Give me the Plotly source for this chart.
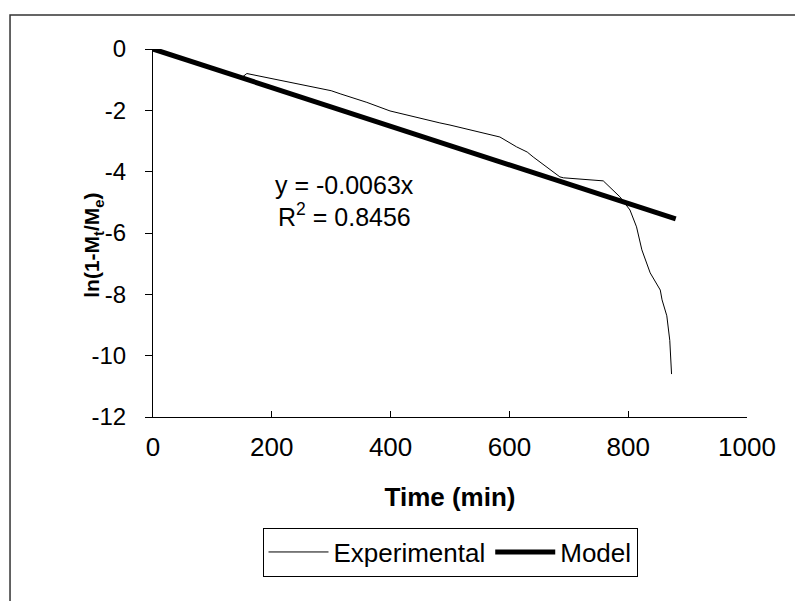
import plotly.graph_objects as go

# ---- data ----
exp_time = [0, 50, 100, 140, 150, 158, 200, 250, 300, 315, 332, 360, 399, 440, 483, 500,
            556, 584, 612, 630, 640, 651, 670, 685, 691, 736, 758, 786, 803, 814, 823,
            837, 854, 857, 865, 870, 873]
exp_val = [0, -0.3, -0.62, -0.86, -0.92, -0.8, -0.96, -1.16, -1.36, -1.46, -1.56, -1.74, -2.02,
           -2.22, -2.41, -2.48, -2.75, -2.87, -3.19, -3.36, -3.52, -3.68, -3.95, -4.17, -4.2,
           -4.27, -4.3, -4.82, -5.25, -5.8, -6.55, -7.3, -7.86, -8.18, -8.7, -9.5, -10.6]

model_time = [0, 880]
model_val = [0, -5.54]

x_ticks = [0, 200, 400, 600, 800, 1000]
x_tick_labels = ["0", "200", "400", "600", "800", "1000"]
y_ticks = [0, -2, -4, -6, -8, -10, -12]
y_tick_labels = ["0", "-2", "-4", "-6", "-8", "-10", "-12"]

eq_text = "y = -0.0063x"
r2_text = "R<sup>2</sup> = 0.8456"

FONT = "Liberation Sans, Arial, sans-serif"

fig = go.Figure()
fig.add_trace(go.Scatter(x=exp_time, y=exp_val, mode="lines", name="Experimental",
                         line=dict(color="black", width=1)))
fig.add_trace(go.Scatter(x=model_time, y=model_val, mode="lines", name="Model",
                         line=dict(color="black", width=5)))

fig.update_layout(
    width=795, height=601,
    margin=dict(l=153, r=48, t=49, b=184),
    paper_bgcolor="white", plot_bgcolor="white",
    font=dict(family=FONT, size=26, color="black"),
    showlegend=True,
    legend=dict(orientation="h", x=0.5, y=-0.367, xanchor="center", yanchor="middle",
                bordercolor="black", borderwidth=1, bgcolor="white",
                font=dict(size=26), itemwidth=60, tracegroupgap=0),
    xaxis=dict(range=[0, 1000], tickvals=x_ticks, ticktext=x_tick_labels,
               showgrid=False, zeroline=False, showline=True, linecolor="black", linewidth=1,
               ticks="inside", ticklen=6, tickcolor="black", ticklabelstandoff=7,
               title=dict(text="<b>Time (min)</b>", font=dict(size=26), standoff=26)),
    yaxis=dict(range=[-12, 0], tickvals=y_ticks, ticktext=y_tick_labels,
               tickfont=dict(size=24),
               showgrid=False, zeroline=False, showline=True, linecolor="black", linewidth=1,
               ticks="outside", ticklen=7, tickcolor="black", ticklabelstandoff=14),
    annotations=[
        dict(x=322, y=-4.43, xref="x", yref="y", text=eq_text, showarrow=False,
             font=dict(size=25)),
        dict(x=322, y=-5.41, xref="x", yref="y", text=r2_text, showarrow=False,
             font=dict(size=25)),
        dict(x=-0.1, y=0.467, xref="paper", yref="paper",
             text="<b>ln(1-M<sub>t</sub>/M<sub>e</sub>)</b>", textangle=-90,
             showarrow=False, font=dict(size=21), xanchor="center", yanchor="middle"),
    ],
    shapes=[
        dict(type="rect", xref="paper", yref="paper",
             x0=-0.2407, x1=1.1, y0=-0.53, y1=1.0924,
             line=dict(color="#333333", width=1.5), fillcolor="rgba(0,0,0,0)", layer="below"),
    ],
)

fig.write_html("out.html")
